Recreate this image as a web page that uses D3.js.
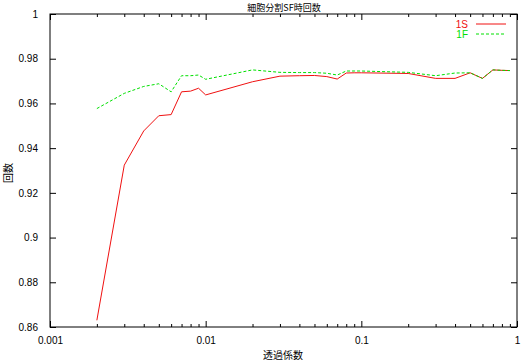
<!DOCTYPE html>
<html>
<head>
<meta charset="utf-8">
<script src="https://cdn.jsdelivr.net/npm/d3@7"></script>
<style>
  body { margin: 0; background: #fff; }
  text { font-family: "Liberation Sans", Arial, "Noto Sans CJK JP", sans-serif; font-size: 10px; fill: #000; }
  .cjk { font-family: "Noto Sans CJK JP", sans-serif; }
</style>
</head>
<body>
<svg id="chart" width="525" height="363"></svg>
<script>
// transmission coefficient (x axis, log)
const coefs = [0.002, 0.003, 0.004, 0.005, 0.006, 0.007, 0.008, 0.009,
  0.01, 0.02, 0.03, 0.04, 0.05, 0.06, 0.07, 0.08, 0.09,
  0.1, 0.2, 0.3, 0.4, 0.5, 0.6, 0.7, 0.8, 0.9];

const series1S = [0.8630, 0.9324, 0.9477, 0.9545, 0.9550, 0.9652, 0.9655, 0.9668,
  0.9638, 0.9697, 0.9722, 0.9724, 0.9725, 0.9720, 0.9709, 0.9736, 0.9737,
  0.9737, 0.9734, 0.9712, 0.9712, 0.9737, 0.9712, 0.9750, 0.9748, 0.9747];

const series1F = [0.9577, 0.9645, 0.9676, 0.9688, 0.9652, 0.9724, 0.9724, 0.9727,
  0.9708, 0.9750, 0.9739, 0.9738, 0.9738, 0.9735, 0.9727, 0.9745, 0.9745,
  0.9745, 0.9739, 0.9724, 0.9736, 0.9737, 0.9712, 0.9750, 0.9748, 0.9747];

const yTicks = [0.86, 0.88, 0.9, 0.92, 0.94, 0.96, 0.98, 1];
const xTicks = [0.001, 0.01, 0.1, 1];

const series = [
  { name: '1S', values: series1S, color: '#f01010', dash: null },
  { name: '1F', values: series1F, color: '#00e000', dash: '3,2' }
];

const margin = { top: 14, right: 8, bottom: 36, left: 50 };
const outerWidth = 525;
const outerHeight = 363;
const width = outerWidth - margin.left - margin.right;
const height = outerHeight - margin.top - margin.bottom;

const svg = d3.select('#chart');
const g = svg.append('g')
  .attr('transform', 'translate(' + margin.left + ',' + margin.top + ')');

const xScale = d3.scaleLog().domain([0.001, 1]).range([0, width]);
const yScale = d3.scaleLinear().domain([0.86, 1]).range([height, 0]);

// minor ticks for the log axis (2..9 in each decade)
const minorX = [];
for (let d = 0.001; d < 1; d *= 10) {
  for (let k = 2; k <= 9; k++) minorX.push(+(d * k).toPrecision(3));
}

const fmtY = d => d3.format('')(+d.toFixed(2));

// bottom axis, ticks pointing inward
g.append('g')
  .attr('transform', 'translate(0,' + height + ')')
  .call(d3.axisBottom(xScale).tickValues(xTicks).tickSize(-6).tickPadding(10).tickFormat(d => String(d)))
  .call(a => a.select('.domain').remove());
g.append('g')
  .attr('transform', 'translate(0,' + height + ')')
  .call(d3.axisBottom(xScale).tickValues(minorX).tickSize(-3).tickFormat(''))
  .call(a => a.select('.domain').remove());
// top mirror
g.append('g')
  .call(d3.axisTop(xScale).tickValues(xTicks).tickSize(-6).tickFormat(''))
  .call(a => a.select('.domain').remove());
g.append('g')
  .call(d3.axisTop(xScale).tickValues(minorX).tickSize(-3).tickFormat(''))
  .call(a => a.select('.domain').remove());

// left axis
g.append('g')
  .call(d3.axisLeft(yScale).tickValues(yTicks).tickSize(-6).tickPadding(12).tickFormat(fmtY))
  .call(a => a.select('.domain').remove());
// right mirror
g.append('g')
  .attr('transform', 'translate(' + width + ',0)')
  .call(d3.axisRight(yScale).tickValues(yTicks).tickSize(-6).tickFormat(''))
  .call(a => a.select('.domain').remove());

g.selectAll('.tick text').style('font-size', '10px');
g.selectAll('.tick line').attr('stroke', '#000');

// frame
g.append('rect')
  .attr('width', width)
  .attr('height', height)
  .attr('fill', 'none')
  .attr('stroke', '#000')
  .attr('stroke-width', 1);

const line = d3.line()
  .x(d => xScale(d[0]))
  .y(d => yScale(d[1]));

series.forEach(s => {
  g.append('path')
    .datum(coefs.map((c, i) => [c, s.values[i]]))
    .attr('fill', 'none')
    .attr('stroke', s.color)
    .attr('stroke-width', 1)
    .attr('stroke-dasharray', s.dash)
    .attr('d', line);
});

// legend
const legend = g.selectAll('.legend')
  .data(series)
  .enter()
  .append('g')
  .classed('legend', true)
  .attr('transform', (d, i) => 'translate(0,' + (10 + i * 10) + ')');

legend.append('text')
  .attr('x', width - 49)
  .attr('dy', '0.35em')
  .attr('text-anchor', 'end')
  .style('fill', d => d.color)
  .text(d => d.name);

legend.append('line')
  .attr('x1', width - 41)
  .attr('x2', width - 11)
  .attr('stroke', d => d.color)
  .attr('stroke-dasharray', d => d.dash);

// titles
svg.append('text')
  .attr('class', 'cjk')
  .attr('x', 284)
  .attr('y', 11)
  .attr('text-anchor', 'middle')
  .style('font-size', '9px')
  .text('細胞分割SF時回数');

svg.append('text')
  .attr('class', 'cjk')
  .attr('x', 283)
  .attr('y', 359)
  .attr('text-anchor', 'middle')
  .text('透過係数');

svg.append('text')
  .attr('class', 'cjk')
  .attr('transform', 'translate(12,173) rotate(-90)')
  .attr('text-anchor', 'middle')
  .text('回数');
</script>
</body>
</html>
